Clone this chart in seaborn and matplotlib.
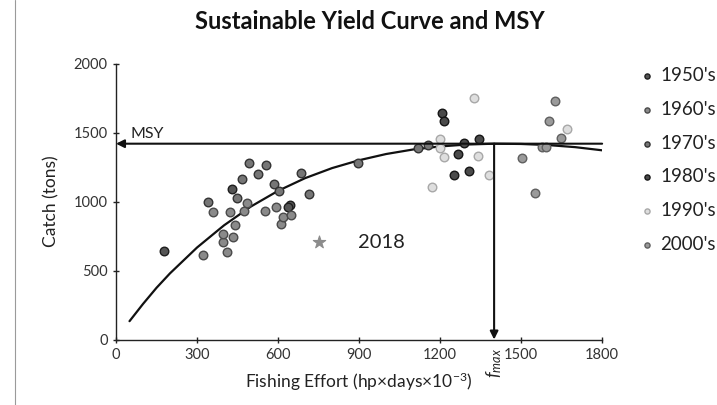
import pandas as pd
import matplotlib
matplotlib.use("Agg")
import matplotlib.pyplot as plt
import seaborn as sns
from matplotlib.lines import Line2D

# Data
decades = ["1950's", "1960's", "1970's", "1980's", "1990's", "2000's"]

effort_1950s = [179, 430, 646, 636]
catch_1950s = [644, 1088, 975, 960]

effort_1960s = [322, 411, 396, 396, 433, 439, 423, 358, 475, 485, 552, 594, 611, 618, 647]
catch_1960s = [615, 636, 709, 764, 740, 830, 926, 926, 931, 991, 929, 960, 835, 890, 904]

effort_1970s = [340, 448, 468, 493, 524, 554, 584, 605, 684, 716, 895, 1117, 1156]
catch_1970s = [999, 1025, 1165, 1279, 1197, 1267, 1129, 1076, 1209, 1052, 1277, 1390, 1409]

effort_1980s = [1207, 1215, 1253, 1306, 1265, 1290, 1345]
catch_1980s = [1646, 1586, 1192, 1219, 1342, 1426, 1451]

effort_1990s = [1201, 1198, 1215, 1327, 1339, 1382, 1171, 1671]
catch_1990s = [1451, 1390, 1320, 1752, 1330, 1190, 1103, 1523]

effort_2000s = [1505, 1552, 1579, 1592, 1604, 1626, 1649]
catch_2000s = [1313, 1059, 1393, 1397, 1583, 1728, 1462]

# sustainable yield curve (read at regular effort steps)
curve_effort = [50, 100, 150, 200, 300, 400, 500, 600, 700, 800, 900,
                1000, 1100, 1200, 1300, 1400, 1500, 1600, 1700, 1800]
curve_catch = [133, 258, 375, 480, 667, 828, 965, 1078, 1170, 1243, 1300,
               1345, 1378, 1400, 1414, 1420, 1418, 1410, 1395, 1372]

msy = 1420
f_max = 1400
effort_2018 = 753
catch_2018 = 707

x_ticks = [0, 300, 600, 900, 1200, 1500, 1800]
y_ticks = [0, 500, 1000, 1500, 2000]

fills = {"1950's": '#555555', "1960's": '#8a8a8a', "1970's": '#767676',
         "1980's": '#4a4a4a', "1990's": '#dedede', "2000's": '#9a9a9a'}
edges = {"1950's": '#1e1e1e', "1960's": '#4a4a4a', "1970's": '#333333',
         "1980's": '#161616', "1990's": '#a8a8a8', "2000's": '#606060'}

efforts = [effort_1950s, effort_1960s, effort_1970s, effort_1980s, effort_1990s, effort_2000s]
catches = [catch_1950s, catch_1960s, catch_1970s, catch_1980s, catch_1990s, catch_2000s]
df = pd.concat([pd.DataFrame({'effort': e, 'catch': c, 'decade': d})
                for e, c, d in zip(efforts, catches, decades)], ignore_index=True)

sns.set_theme(style="white")
plt.rcParams['font.family'] = ['Lato', 'DejaVu Sans']
plt.rcParams['mathtext.fontset'] = 'custom'
plt.rcParams['mathtext.rm'] = 'Lato'
plt.rcParams['mathtext.it'] = 'Lato:italic'

fig = plt.figure(figsize=(7.17, 4.05), dpi=100)
ax = fig.add_axes([0.1618, 0.1617, 0.678, 0.681])

sns.lineplot(x=curve_effort, y=curve_catch, color='#111111', lw=1.6, ax=ax, zorder=2)

for dec in decades:
    sub = df[df['decade'] == dec]
    sns.scatterplot(data=sub, x='effort', y='catch', color=fills[dec], edgecolor=edges[dec],
                    linewidth=1.0, s=38, label=dec, ax=ax, zorder=3)

sns.scatterplot(x=[effort_2018], y=[catch_2018], marker='*', s=90, color='#8c8c8c',
                edgecolor='#8c8c8c', ax=ax, legend=False, zorder=3)

# MSY and f_max arrows
arrow = dict(arrowstyle='-|>', color='#111111', lw=1.5, mutation_scale=12, shrinkA=0, shrinkB=0)
ax.annotate('', xy=(0, msy), xytext=(x_ticks[-1], msy), arrowprops=arrow, zorder=4)
ax.annotate('', xy=(f_max, 0), xytext=(f_max, msy), arrowprops=arrow, zorder=4)

ax.text(52, msy + 20, 'MSY', fontsize=11.5, va='bottom', color='#222222')
ax.text(895, catch_2018, '2018', fontsize=14.5, va='center', color='#222222')
ax.annotate(r'$f_{max}$', xy=(f_max, 0), xytext=(0, -6), textcoords='offset points',
            rotation=90, ha='center', va='top', fontsize=13, annotation_clip=False)

ax.set_xlim(0, 1800)
ax.set_ylim(0, 2000)
ax.set_xticks(x_ticks)
ax.set_yticks(y_ticks)
ax.tick_params(direction='inout', length=5, width=1, colors='#222222', labelsize=10.5,
               left=True, bottom=True, labelcolor='#333333')
sns.despine(ax=ax)
for s in ['left', 'bottom']:
    ax.spines[s].set_color('#222222')
    ax.spines[s].set_linewidth(1.0)

ax.set_xlabel('Fishing Effort (hp×days×10$^{-3}$)', fontsize=12.5, color='#222222', labelpad=6)
ax.set_ylabel('Catch (tons)', fontsize=12.5, color='#222222', labelpad=10)
fig.text(0.516, 0.946, 'Sustainable Yield Curve and MSY', fontsize=17, fontweight='bold',
         ha='center', va='center', color='#111111')

ax.legend(loc='upper left', bbox_to_anchor=(1.035, 1.05), frameon=False, fontsize=13.5,
          labelspacing=0.9, handletextpad=0.1, handlelength=1.2, markerscale=0.6,
          labelcolor='#222222')

fig.add_artist(Line2D([0.021, 0.021], [0, 1], transform=fig.transFigure, color='#9a9a9a', lw=0.8))

fig.savefig('out.png', dpi=100)
